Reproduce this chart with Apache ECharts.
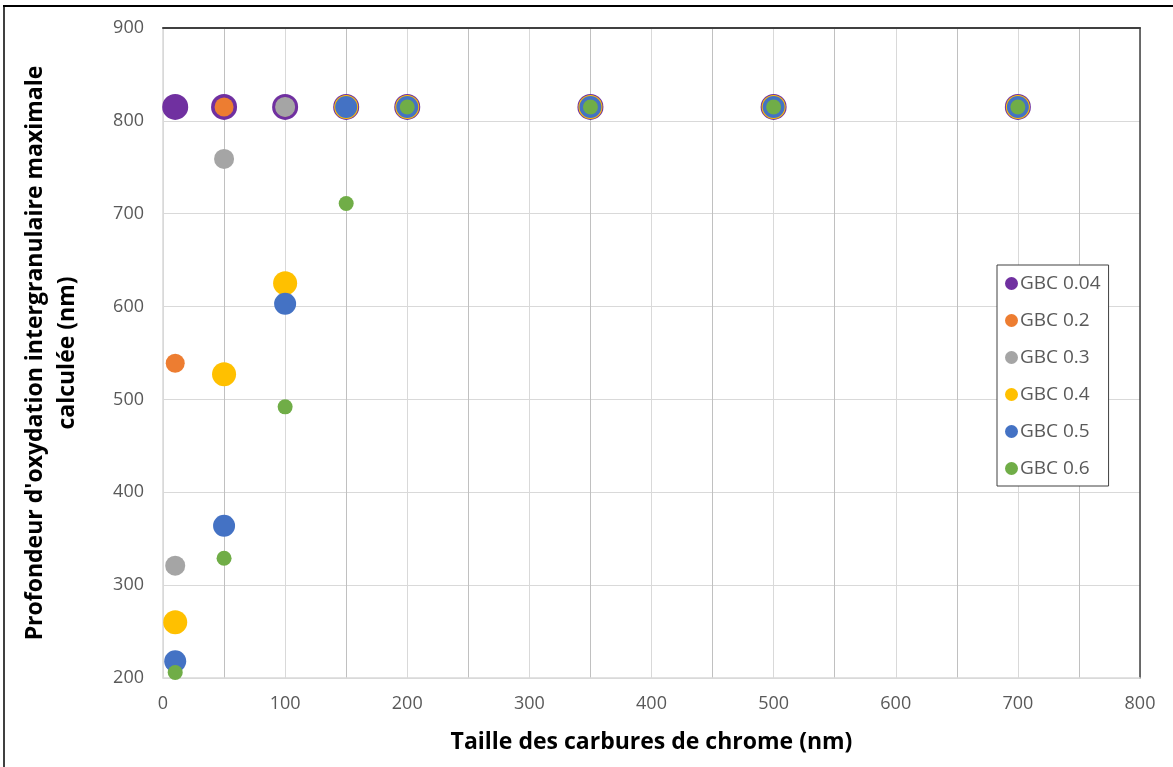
<!DOCTYPE html>
<html>
<head>
<meta charset="utf-8">
<script src="https://cdn.jsdelivr.net/npm/echarts@6/dist/echarts.min.js"></script>
<style>html,body{margin:0;padding:0;background:#fff}#c{width:1173px;height:767px}</style>
</head>
<body>
<div id="c"></div>
<script>
const sizes = [10, 50, 100, 150, 200, 350, 500, 700];
const seriesNames = ['GBC 0.04', 'GBC 0.2', 'GBC 0.3', 'GBC 0.4', 'GBC 0.5', 'GBC 0.6'];
const gbc004 = [815, 815, 815, 815, 815, 815, 815, 815];
const gbc02 = [539, 815, 815, 815, 815, 815, 815, 815];
const gbc03 = [321, 759, 815, 815, 815, 815, 815, 815];
const gbc04 = [260, 527, 625, 815, 815, 815, 815, 815];
const gbc05 = [218, 364, 603, 815, 815, 815, 815, 815];
const gbc06 = [206, 329, 492, 711, 815, 815, 815, 815];
const xTitle = 'Taille des carbures de chrome (nm)';
const yTitle = "Profondeur d'oxydation intergranulaire maximale\ncalculée (nm)";

const allValues = [gbc004, gbc02, gbc03, gbc04, gbc05, gbc06];
const colors = ['#7030a0', '#ed7d31', '#a5a5a5', '#ffc000', '#4472c4', '#70ad47'];
const symSizes = [26, 19, 20, 24, 22, 15];

const chart = echarts.init(document.getElementById('c'), null, {renderer: 'canvas'});
const series = seriesNames.map((n, i) => ({
  name: n,
  type: 'scatter',
  data: sizes.map((x, j) => [x, allValues[i][j]]),
  symbol: 'circle',
  symbolSize: symSizes[i],
  itemStyle: {color: colors[i], opacity: 1},
  z: 2 + i,
  emphasis: {disabled: true}
}));

const labelStyle = {color: '#595959', fontSize: 18, fontFamily: 'Open Sans'};
const titleFont = {color: '#000', fontSize: 23, fontWeight: 'bold', fontFamily: 'Open Sans'};
chart.setOption({
  animation: false,
  backgroundColor: '#fff',
  grid: {left: 163, right: 33, top: 28, bottom: 89, containLabel: false},
  legend: {
    orient: 'vertical',
    left: 997, top: 265,
    width: 116,
    data: seriesNames.map((n, i) => ({name: n, icon: 'circle'})),
    itemWidth: 13, itemHeight: 13, itemGap: 18,
    padding: [9, 8, 8, 8],
    borderColor: '#404040', borderWidth: 1,
    backgroundColor: '#fff',
    textStyle: {color: '#595959', fontSize: 19, lineHeight: 19, fontFamily: 'Open Sans', padding: [0, 0, 0, -3]}
  },
  xAxis: [{
    type: 'value', min: 0, max: 800, interval: 100,
    axisLine: {show: true, lineStyle: {color: '#d9d9d9', width: 1.5}},
    axisTick: {show: false},
    axisLabel: Object.assign({margin: 17}, labelStyle),
    splitLine: {show: true, lineStyle: {color: '#d9d9d9', width: 1}},
    minorTick: {show: false, splitNumber: 2},
    minorSplitLine: {show: true, lineStyle: {color: '#c0c0c0', width: 1}},
    name: xTitle, nameLocation: 'middle', nameGap: 53,
    nameTextStyle: titleFont
  }, {
    type: 'value', min: 0, max: 800, position: 'top',
    axisLine: {show: true, onZero: false, lineStyle: {color: '#404040', width: 2}},
    axisTick: {show: false}, axisLabel: {show: false}, splitLine: {show: false}
  }],
  yAxis: [{
    type: 'value', min: 200, max: 900, interval: 100,
    axisLine: {show: true, lineStyle: {color: '#d9d9d9', width: 1.5}},
    axisTick: {show: false},
    axisLabel: Object.assign({margin: 19}, labelStyle),
    splitLine: {show: true, lineStyle: {color: '#d9d9d9', width: 1}},
    name: yTitle, nameLocation: 'middle', nameGap: 80, nameRotate: 90,
    nameTextStyle: Object.assign({}, titleFont, {lineHeight: 32, align: 'center'})
  }, {
    type: 'value', min: 200, max: 900, position: 'right',
    axisLine: {show: true, onZero: false, lineStyle: {color: '#404040', width: 1.5}},
    axisTick: {show: false}, axisLabel: {show: false}, splitLine: {show: false}
  }],
  graphic: [
    {type: 'line', shape: {x1: 3, y1: 6, x2: 1173, y2: 6}, style: {stroke: '#000', lineWidth: 2}},
    {type: 'line', shape: {x1: 4, y1: 5, x2: 4, y2: 767}, style: {stroke: '#000', lineWidth: 1.5}}
  ],
  series: series
});
</script>
</body>
</html>
